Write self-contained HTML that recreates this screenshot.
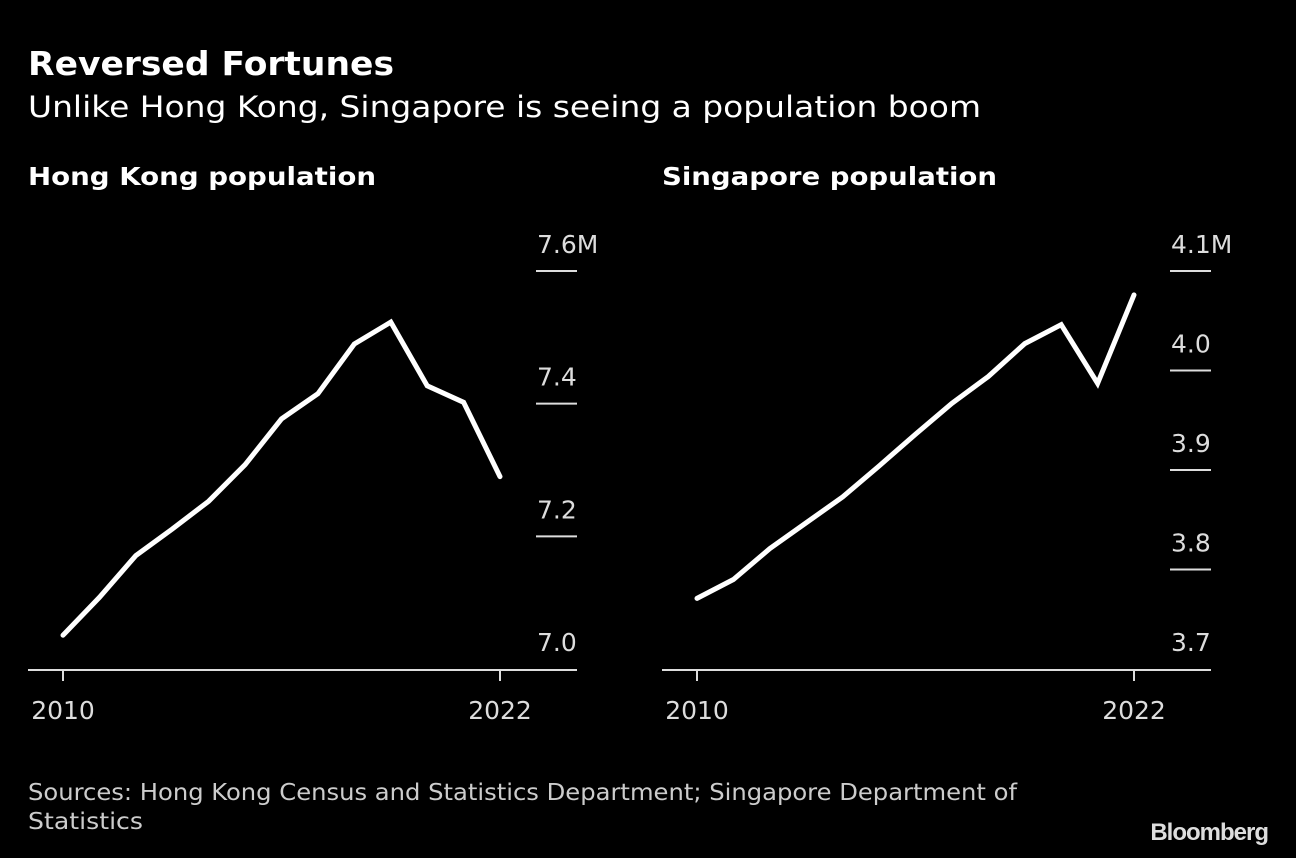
<!DOCTYPE html>
<html><head><meta charset="utf-8"><style>
html,body{margin:0;padding:0;background:#000;}
svg{display:block;font-family:"DejaVu Sans","Liberation Sans",sans-serif;}
</style></head><body>
<svg id="c" width="1296" height="858" viewBox="0 0 1296 858">
<rect width="1296" height="858" fill="#000"/>
<text x="28" y="75" fill="#fff" font-size="33" font-weight="bold" textLength="366" lengthAdjust="spacingAndGlyphs">Reversed Fortunes</text>
<text x="28" y="117" fill="#fff" font-size="29" textLength="953" lengthAdjust="spacingAndGlyphs">Unlike Hong Kong, Singapore is seeing a population boom</text>
<text x="28" y="185" fill="#fff" font-size="25" font-weight="bold" textLength="348" lengthAdjust="spacingAndGlyphs">Hong Kong population</text>
<text x="662" y="185" fill="#fff" font-size="25" font-weight="bold" textLength="335" lengthAdjust="spacingAndGlyphs">Singapore population</text>
<text x="28" y="800" fill="#ccc" font-size="23" textLength="989" lengthAdjust="spacingAndGlyphs">Sources: Hong Kong Census and Statistics Department; Singapore Department of</text>
<text x="28" y="829" fill="#ccc" font-size="23" textLength="115" lengthAdjust="spacingAndGlyphs">Statistics</text>
<text x="1268" y="840" fill="#ddd" font-size="24" font-weight="bold" font-family="Liberation Sans, sans-serif" text-anchor="end" letter-spacing="-1">Bloomberg</text>
<g id="hk"></g>
<g id="sg"></g>
</svg>
<script>
const years = [2010,2011,2012,2013,2014,2015,2016,2017,2018,2019,2020,2021,2022];
const hkValues = [7.051,7.108,7.171,7.211,7.253,7.308,7.377,7.415,7.490,7.523,7.427,7.402,7.290];
const sgValues = [3.771,3.790,3.821,3.847,3.873,3.904,3.936,3.967,3.994,4.027,4.046,3.987,4.076];
const hkTicks = [7.0,7.2,7.4,7.6];
const hkTickLabels = ["7.0","7.2","7.4","7.6M"];
const sgTicks = [3.7,3.8,3.9,4.0,4.1];
const sgTickLabels = ["3.7","3.8","3.9","4.0","4.1M"];
const xLabels = ["2010","2022"];
const NS="http://www.w3.org/2000/svg";
function mk(tag,attrs,parent){const e=document.createElementNS(NS,tag);for(const k in attrs)e.setAttribute(k,attrs[k]);parent.appendChild(e);return e;}
function panel(g,vals,ticks,labels,x0,yMin,yMax,prefix){
  const left=x0, axisRight=x0+549, xa=x0+35, xb=x0+472, yBase=669, yTop=271;
  const xs=y=>xa+(y-years[0])/(years[years.length-1]-years[0])*(xb-xa);
  const ys=v=>yBase-(v-yMin)/(yMax-yMin)*(yBase-yTop);
  ticks.forEach((t,i)=>{
    const y=ys(t);
    if(i>0){const l=mk('line',{x1:x0+508,x2:x0+549,y1:y,y2:y,stroke:'#ddd','stroke-width':2},g);
      
      }
    const tx=mk('text',{x:x0+509,y:y-18,fill:'#ddd','font-size':25},g);tx.textContent=labels[i];
    
    
  });
  const ax=mk('line',{x1:left,x2:axisRight,y1:yBase+1,y2:yBase+1,stroke:'#ddd','stroke-width':2},g);
  
  
  [years[0],years[years.length-1]].forEach((yr,i)=>{
    const x=xs(yr);
    const tk=mk('line',{x1:x,x2:x,y1:yBase+1,y2:yBase+12,stroke:'#ddd','stroke-width':2},g);
    
    
    const t=mk('text',{x:x,y:719,fill:'#ddd','font-size':25,'text-anchor':'middle'},g);t.textContent=xLabels[i];
    
    
  });
  const d=vals.map((v,i)=>(i?'L':'M')+xs(years[i]).toFixed(1)+' '+ys(v).toFixed(1)).join(' ');
  const p=mk('path',{d:d,fill:'none',stroke:'#fff','stroke-width':5,'stroke-linejoin':'miter','stroke-linecap':'round'},g);
  
  
}
panel(document.getElementById('hk'),hkValues,hkTicks,hkTickLabels,28,7.0,7.6,'hk');
panel(document.getElementById('sg'),sgValues,sgTicks,sgTickLabels,662,3.7,4.1,'sg');
</script>
</body></html>
